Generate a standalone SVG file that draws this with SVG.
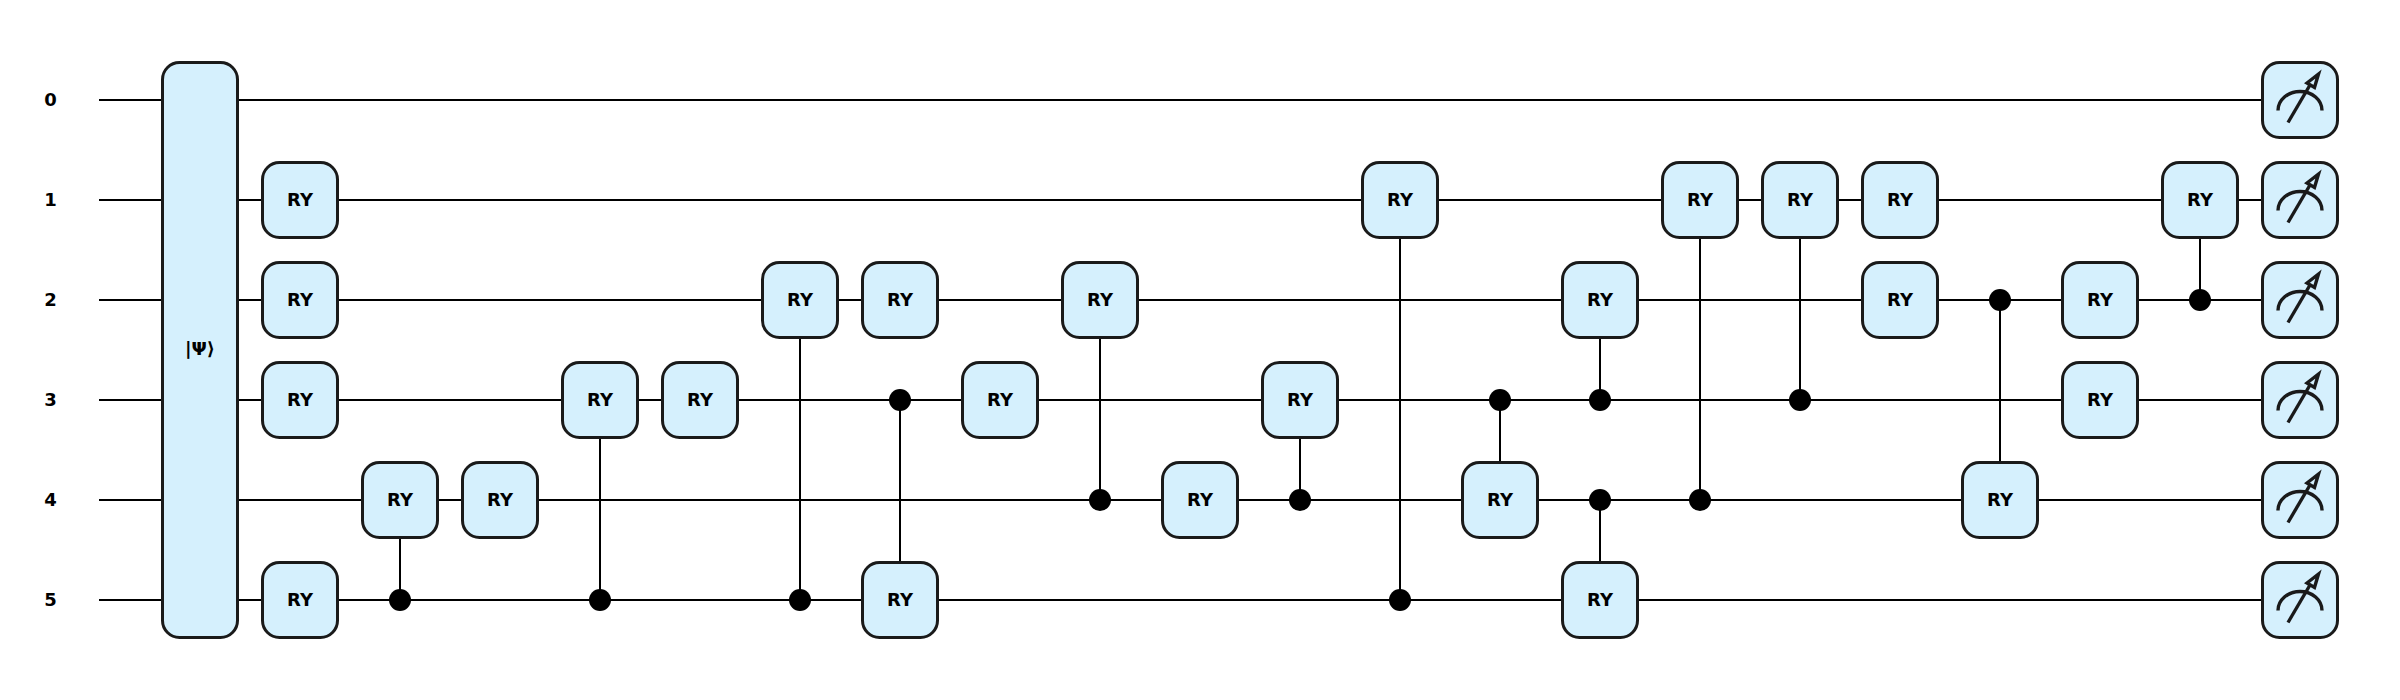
<svg xmlns="http://www.w3.org/2000/svg" width="2400" height="700" viewBox="0 0 2400 700">
<style>
text{font-family:"DejaVu Sans",sans-serif;font-weight:700;font-size:18px;fill:#000;text-anchor:middle}
.w{stroke:#000;stroke-width:2;fill:none}
.g{fill:#d5f0fd;stroke:#1a1a1a;stroke-width:3}
.c{fill:#000}
.m{fill:none;stroke:#1a1a1a;stroke-width:3.4}
.n{fill:#d5f0fd;stroke:#1a1a1a;stroke-width:3.4;stroke-linejoin:miter}
</style>
<defs>
<g id="ry"><rect class="g" x="-37.5" y="-37.5" width="75" height="75" rx="17" ry="17"/><text y="6">RY</text></g>
<g id="meter"><rect class="g" x="-37.5" y="-37.5" width="75" height="75" rx="17" ry="17"/><path class="m" d="M-22 10.5A22 19 0 0 1 22 10.5"/><path class="m" stroke-width="3.6" d="M-12 22.5L10 -15"/><path class="n" d="M18.5 -26L7 -17L14.5 -12.5Z"/></g>
</defs>
<g id="connectors">
<path class="w" d="M99 100H2300M99 200H2300M99 300H2300M99 400H2300M99 500H2300M99 600H2300"/>
<path class="w" d="M400 500V600M600 400V600M800 300V600M900 400V600M1100 300V500M1300 400V500M1400 200V600M1500 400V500M1600 300V400M1600 500V600M1700 200V500M1800 200V400M2000 300V500M2200 200V300"/>
</g>
<g id="labels"><text x="50.5" y="106">0</text><text x="50.5" y="206">1</text><text x="50.5" y="306">2</text><text x="50.5" y="406">3</text><text x="50.5" y="506">4</text><text x="50.5" y="606">5</text></g>
<g id="state"><rect class="g" x="162.5" y="62.5" width="75" height="575" rx="17" ry="17"/><text x="200" y="355">|Ψ⟩</text></g>
<g id="ctrls">
<circle class="c" cx="400" cy="600" r="11"/><circle class="c" cx="600" cy="600" r="11"/><circle class="c" cx="800" cy="600" r="11"/><circle class="c" cx="900" cy="400" r="11"/><circle class="c" cx="1100" cy="500" r="11"/><circle class="c" cx="1300" cy="500" r="11"/><circle class="c" cx="1400" cy="600" r="11"/><circle class="c" cx="1500" cy="400" r="11"/><circle class="c" cx="1600" cy="400" r="11"/><circle class="c" cx="1600" cy="500" r="11"/><circle class="c" cx="1700" cy="500" r="11"/><circle class="c" cx="1800" cy="400" r="11"/><circle class="c" cx="2000" cy="300" r="11"/><circle class="c" cx="2200" cy="300" r="11"/>
</g>
<g id="gates">
<use href="#ry" x="300" y="200"/><use href="#ry" x="300" y="300"/><use href="#ry" x="300" y="400"/><use href="#ry" x="300" y="600"/>
<use href="#ry" x="400" y="500"/><use href="#ry" x="500" y="500"/><use href="#ry" x="600" y="400"/><use href="#ry" x="700" y="400"/>
<use href="#ry" x="800" y="300"/><use href="#ry" x="900" y="300"/><use href="#ry" x="900" y="600"/><use href="#ry" x="1000" y="400"/>
<use href="#ry" x="1100" y="300"/><use href="#ry" x="1200" y="500"/><use href="#ry" x="1300" y="400"/><use href="#ry" x="1400" y="200"/>
<use href="#ry" x="1500" y="500"/><use href="#ry" x="1600" y="300"/><use href="#ry" x="1600" y="600"/><use href="#ry" x="1700" y="200"/>
<use href="#ry" x="1800" y="200"/><use href="#ry" x="1900" y="200"/><use href="#ry" x="1900" y="300"/><use href="#ry" x="2000" y="500"/>
<use href="#ry" x="2100" y="300"/><use href="#ry" x="2100" y="400"/><use href="#ry" x="2200" y="200"/>
</g>
<g id="measurements">
<use href="#meter" x="2300" y="100"/><use href="#meter" x="2300" y="200"/><use href="#meter" x="2300" y="300"/><use href="#meter" x="2300" y="400"/><use href="#meter" x="2300" y="500"/><use href="#meter" x="2300" y="600"/>
</g>
</svg>
